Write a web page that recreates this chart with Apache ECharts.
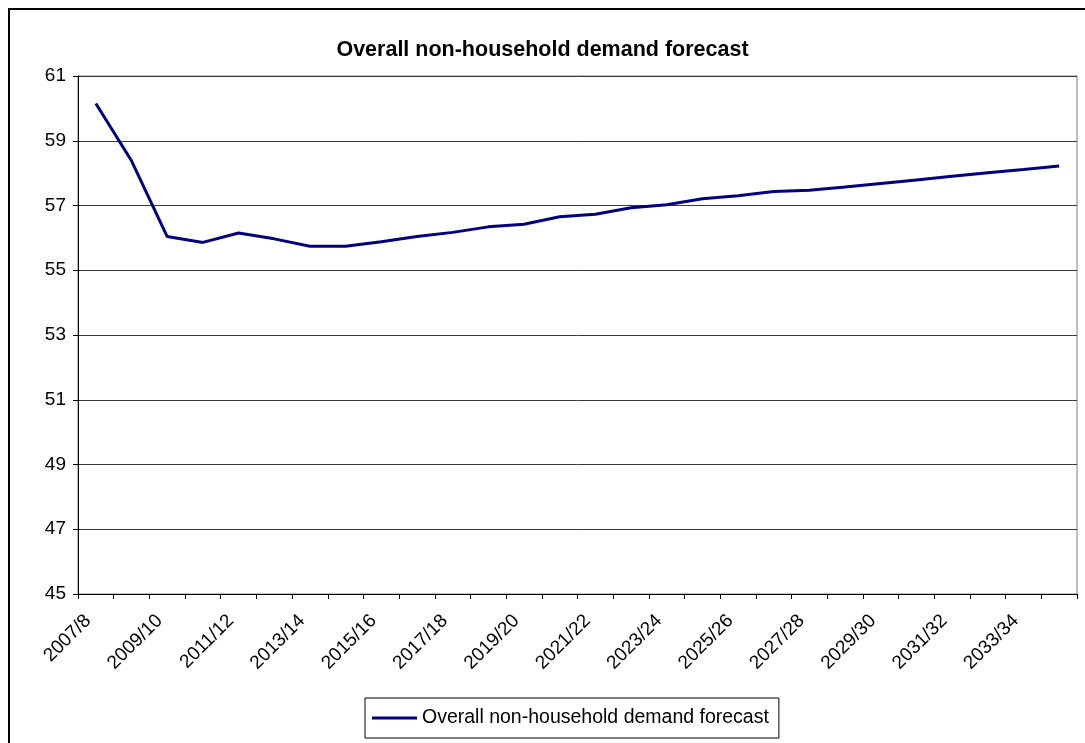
<!DOCTYPE html>
<html>
<head>
<meta charset="utf-8">
<script src="https://cdn.jsdelivr.net/npm/echarts@6/dist/echarts.min.js"></script>
<style>
  html, body { margin: 0; padding: 0; background: #ffffff; }
  #chart { width: 1085px; height: 743px; }
</style>
</head>
<body>
<div id="chart"></div>
<script>
// Financial years of the forecast horizon
const years = [
  '2007/8', '2008/9', '2009/10', '2010/11', '2011/12', '2012/13', '2013/14',
  '2014/15', '2015/16', '2016/17', '2017/18', '2018/19', '2019/20', '2020/21',
  '2021/22', '2022/23', '2023/24', '2024/25', '2025/26', '2026/27', '2027/28',
  '2028/29', '2029/30', '2030/31', '2031/32', '2032/33', '2033/34', '2034/35'
];

// Overall non-household demand forecast
const demand = [
  60.15, 58.38, 56.04, 55.86, 56.15, 55.97, 55.74, 55.74, 55.88, 56.04,
  56.17, 56.34, 56.42, 56.65, 56.73, 56.93, 57.02, 57.21, 57.30, 57.43,
  57.47, 57.57, 57.68, 57.79, 57.90, 58.01, 58.11, 58.22
];

const seriesName = 'Overall non-household demand forecast';
const chartTitle = 'Overall non-household demand forecast';

const chart = echarts.init(document.getElementById('chart'), null, { renderer: 'canvas' });

chart.setOption({
  animation: false,
  backgroundColor: '#ffffff',
  textStyle: { fontFamily: 'Liberation Sans, Arial, sans-serif', color: '#000' },
  graphic: [{
    type: 'rect',
    shape: { x: 9, y: 9, width: 1100, height: 780 },
    style: { fill: 'none', stroke: '#000', lineWidth: 2 },
    silent: true
  }],
  title: {
    text: chartTitle,
    left: 'center',
    top: 34,
    textStyle: { fontSize: 21.5, fontWeight: 'bold', color: '#000', fontFamily: 'Liberation Sans, Arial, sans-serif' }
  },
  legend: {
    data: [seriesName],
    left: 365,
    top: 698,
    padding: [10, 10, 10, 7],
    itemWidth: 45,
    itemHeight: 3,
    itemGap: 0,
    borderColor: '#000',
    borderWidth: 1,
    borderRadius: 0,
    icon: 'rect',
    textStyle: { fontSize: 19.5, color: '#000' }
  },
  grid: {
    left: 78,
    right: 8,
    top: 76,
    bottom: 149,
    show: true,
    borderColor: '#808080',
    borderWidth: 1,
    containLabel: false
  },
  xAxis: {
    type: 'category',
    data: years,
    boundaryGap: true,
    axisLine: { show: true, lineStyle: { color: '#000', width: 1 } },
    axisTick: { show: true, alignWithLabel: false, interval: 0, length: 5, lineStyle: { color: '#000' } },
    axisLabel: { interval: 1, rotate: 45, fontSize: 19, color: '#000', margin: 16, padding: [0, 11, 0, 0] },
    splitLine: { show: false }
  },
  yAxis: {
    type: 'value',
    min: 45,
    max: 61,
    interval: 2,
    axisLine: { show: true, lineStyle: { color: '#000', width: 1 } },
    axisTick: { show: true, length: 5, lineStyle: { color: '#000' } },
    axisLabel: { fontSize: 19, color: '#000', margin: 12 },
    splitLine: { show: true, lineStyle: { color: '#3a3a3a', width: 1 } }
  },
  series: [{
    name: seriesName,
    type: 'line',
    data: demand,
    showSymbol: false,
    symbol: 'none',
    lineStyle: { color: '#000080', width: 3 },
    itemStyle: { color: '#000080' }
  }]
});
</script>
</body>
</html>
